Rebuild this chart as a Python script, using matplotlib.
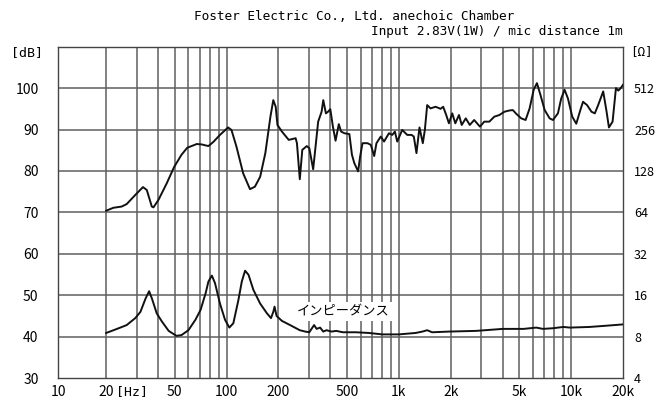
import matplotlib
matplotlib.use("Agg")
import matplotlib.pyplot as plt
import matplotlib.transforms as mtransforms

# 音圧 (SPL) [dB]
spl_freq = [20, 22.0, 24.6, 26.3, 29.5, 32.7, 34.4, 36.8, 37.6, 40.2, 44.9, 49.5,
            54.7, 59.1, 67.1, 71.7, 78.4, 83.7, 91.5, 102, 106.7, 114, 124.8, 136.7,
            146, 156.6, 167.8, 179.6, 186.6, 192.7, 197.3, 209.5, 229.4, 251.6, 256,
            266, 275, 292, 302, 318, 333, 340, 356, 364, 377, 388, 400, 414, 429, 448,
            462, 483, 516, 534, 551, 580, 596, 615, 657, 687, 719, 741, 785, 820, 876,
            915, 948, 978, 1046, 1118, 1185, 1221, 1265, 1317, 1377, 1415, 1460, 1527,
            1634, 1746, 1808, 1883, 1952, 2041, 2126, 2233, 2316, 2445, 2580, 2736,
            2955, 3130, 3350, 3580, 3830, 4100, 4385, 4585, 4800, 5130, 5440, 5740,
            6060, 6330, 6630, 7020, 7500, 7840, 8380, 8760, 9160, 9580, 10150, 10710,
            11310, 11720, 12370, 13120, 13720, 14350, 15350, 16060, 16570, 17400,
            18200, 18780, 19400, 20000]
spl_db = [70.4, 71.1, 71.4, 72.0, 74.2, 76.1, 75.4, 71.4, 71.2, 73.0, 77.0, 80.9,
          83.9, 85.6, 86.5, 86.4, 86.0, 87.0, 88.7, 90.5, 89.9, 85.9, 79.4, 75.6,
          76.2, 78.6, 84.3, 93.1, 97.1, 95.5, 91.1, 89.5, 87.5, 87.9, 86.7,
          78.0, 85.1, 86.0, 85.5, 80.4, 88.3, 91.9, 94.3, 97.1, 93.9, 94.3, 94.9, 90.7,
          87.3, 91.3, 89.5, 89.1, 88.9, 83.9, 81.9, 79.9, 83.5, 86.7, 86.7, 86.3,
          83.6, 86.7, 88.3, 87.1, 89.1, 88.7, 89.5, 87.1, 89.9, 88.7, 88.7, 88.3,
          84.3, 90.5, 86.7, 89.9, 95.9, 95.1, 95.5, 95.0, 95.5, 93.5, 91.5, 93.9,
          91.5, 93.5, 91.1, 92.7, 91.1, 92.3, 90.7, 91.9, 91.9, 93.1, 93.5, 94.3,
          94.6, 94.7, 93.8, 92.7, 92.3, 95.1, 99.6, 101.2, 98.4, 94.7, 92.7, 92.3,
          93.9, 97.5, 99.6, 97.5, 93.1, 91.4, 94.7, 96.7, 95.9, 94.3, 93.9, 95.9,
          99.2, 94.3, 90.5, 91.9, 100.0, 99.4, 100.0, 100.8]

# インピーダンス [Ω]
imp_freq = [20, 23.1, 26.3, 29.5, 31.6, 33.9, 35.5, 36.8, 39.3, 42.1, 46.1, 51.1,
            54.7, 60, 65.9, 70.6, 75.6, 78.4, 82.1, 85.6, 91.5, 97.9, 103.7, 109.4,
            117, 122.5, 128, 134, 143, 156.6, 171.5, 181, 186.6, 189.8, 195, 209.5,
            233.6, 266, 286, 302, 313, 322, 333, 349, 364, 380, 406, 433, 473, 563,
            670, 800, 1000, 1250, 1370, 1460, 1560, 1952, 2800, 4010, 5300, 6270,
            6860, 7840, 9000, 9850, 12800, 16060, 19800]
imp_ohm = [8.5, 9.1, 9.7, 10.9, 12.1, 15.2, 17.1, 15.2, 11.8, 10.3, 8.8, 8.1,
           8.2, 8.9, 10.6, 12.5, 16.6, 20.1, 22.2, 19.6, 13.9, 10.6, 9.3, 10.0,
           14.7, 20.1, 24.1, 22.5, 17.5, 13.9, 11.8, 10.9, 12.1, 13.2, 11.3, 10.4,
           9.7, 8.9, 8.7, 8.6, 9.2, 9.7, 9.1, 9.3, 8.7, 8.9, 8.7, 8.8, 8.6, 8.6,
           8.5, 8.3, 8.3, 8.5, 8.7, 8.9, 8.6, 8.7, 8.8, 9.1, 9.1, 9.3,
           9.1, 9.2, 9.4, 9.3, 9.4, 9.6, 9.8]

x_ticks = [10.5, 20, 50, 100, 200, 500, 1000, 2000, 5000, 10000, 20000]
x_labels = ["10", "20", "50", "100", "200", "500", "1k", "2k", "5k", "10k", "20k"]
x_grid = [20, 30, 40, 50, 60, 70, 80, 90, 100, 200, 300, 400, 500, 600, 700, 800,
          900, 1000, 2000, 3000, 4000, 5000, 6000, 7000, 8000, 9000, 10000]
db_ticks = [30, 40, 50, 60, 70, 80, 90, 100]
ohm_ticks = [4, 8, 16, 32, 64, 128, 256, 512]

gridc = "#5f5f5f"
mono = "DejaVu Sans Mono"
sans = ["Noto Sans CJK JP", "DejaVu Sans"]

fig = plt.figure(figsize=(6.57, 4.03), dpi=100)
ax = fig.add_axes([58 / 657, 25 / 403, 565 / 657, 331.3 / 403])

ax.set_xscale("log")
ax.set_xlim(10.5, 20000)
ax.set_ylim(30, 110)

for f in x_grid:
    ax.axvline(f, color=gridc, lw=1.1, zorder=1)
for d in db_ticks[1:]:
    ax.axhline(d, color=gridc, lw=1.1, zorder=1)

ax.plot(spl_freq, spl_db, color="#111111", lw=1.4, zorder=3)

ax.set_xticks(x_ticks)
ax.set_xticklabels(x_labels, family=sans, fontsize=10)
ax.xaxis.set_minor_locator(plt.NullLocator())
ax.set_yticks(db_ticks)
ax.set_yticklabels([str(v) for v in db_ticks], family=sans, fontsize=10)
ax.tick_params(axis="x", length=0, pad=5)
ax.tick_params(axis="y", length=0, pad=14)
for s in ax.spines.values():
    s.set_color("#444444")
    s.set_linewidth(1.0)

# 右軸 インピーダンス (log2)
ax2 = ax.twinx()
ax2.set_yscale("log", base=2)
ax2.set_ylim(4, 1024)
ax2.plot(imp_freq, imp_ohm, color="#111111", lw=1.4, zorder=3)
ax2.set_yticks(ohm_ticks)
ax2.set_yticklabels([str(v) for v in ohm_ticks], family=sans, fontsize=9)
ax2.yaxis.set_minor_locator(plt.NullLocator())
ax2.tick_params(axis="y", length=0, pad=8)
for s in ax2.spines.values():
    s.set_visible(False)

# 単位
ax.text(-0.027, 108.5, "[dB]", transform=mtransforms.blended_transform_factory(ax.transAxes, ax.transData),
        ha="right", va="center", family=mono, fontsize=9.5)
ax.text(1.012, 108.8, "[Ω]", transform=mtransforms.blended_transform_factory(ax.transAxes, ax.transData),
        ha="left", va="center", family=mono, fontsize=9, clip_on=False)
ax.text(116 / 657, 1 - 392 / 403, "[Hz]", transform=fig.transFigure, ha="left", va="center",
        family=mono, fontsize=9.5)

ax.text(297 / 657, 1 - 311.5 / 403, "インピーダンス", transform=fig.transFigure,
        ha="left", va="center", family=sans, fontsize=9.5, zorder=5,
        bbox=dict(facecolor="white", edgecolor="none", pad=2.5))

fig.text(354 / 657, 1 - 16 / 403, "Foster Electric Co., Ltd. anechoic Chamber",
         ha="center", va="center", family=mono, fontsize=9.2)
fig.text(623 / 657, 1 - 32 / 403, "Input 2.83V(1W) / mic distance 1m",
         ha="right", va="center", family=mono, fontsize=9.2)

fig.savefig("out.png", dpi=100)
